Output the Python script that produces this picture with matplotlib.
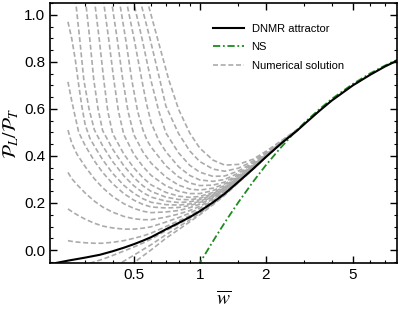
import numpy as np
import matplotlib
matplotlib.use('Agg')
import matplotlib.pyplot as plt
from matplotlib.ticker import FixedLocator, NullFormatter, MultipleLocator, FormatStrFormatter

plt.rcParams['font.family'] = ['Liberation Sans', 'DejaVu Sans']
plt.rcParams['mathtext.fontset'] = 'stix'

# DNMR attractor
attractor_w = [0.2, 0.22, 0.25, 0.3, 0.35, 0.4, 0.45, 0.5, 0.55, 0.6, 0.7, 0.8, 0.9, 1.0,
               1.15, 1.3, 1.5, 1.75, 2.0, 2.4, 2.8, 3.0, 3.5, 4.0, 5.0, 6.0, 7.0, 8.0]
attractor_y = [-0.07, -0.055, -0.045, -0.032, -0.02, -0.005, 0.010, 0.025, 0.040, 0.055, 0.088,
               0.115, 0.140, 0.165, 0.203, 0.240, 0.290, 0.345, 0.395, 0.46, 0.51, 0.535,
               0.59, 0.635, 0.70, 0.745, 0.78, 0.806]

# Navier-Stokes
ns_w = [0.98, 1.0, 1.1, 1.2, 1.33, 1.5, 1.75, 2.0, 2.3, 2.6, 3.0, 3.5, 4.0, 5.0, 6.0, 7.0, 8.0]
ns_y = [-0.07, -0.055, 0.009, 0.066, 0.131, 0.203, 0.290, 0.360, 0.427, 0.482, 0.541, 0.597,
        0.642, 0.706, 0.751, 0.784, 0.809]

# numerical solutions, one list per curve
grid = [0.25, 0.26, 0.275, 0.3, 0.33, 0.36, 0.4, 0.45, 0.5, 0.55, 0.6, 0.7, 0.8, 0.9, 1.0,
        1.15, 1.3, 1.5, 1.75, 2.0, 2.4, 2.8]
num_w = [
    [0.56, 0.579, 0.643, 0.722, 0.8, 0.9, 1.0, 1.15, 1.3, 1.5, 1.75, 2.0, 2.4, 2.8],
    [0.527, 0.538, 0.594, 0.657, 0.7, 0.8, 0.9, 1.0, 1.15, 1.3, 1.5, 1.75, 2.0, 2.4, 2.8],
    [0.49, 0.4996, 0.546, 0.5975, 0.65, 0.7, 0.8, 0.9, 1.0, 1.15, 1.3, 1.5, 1.75, 2.0, 2.4, 2.8],
    [0.455, 0.464, 0.502, 0.5435, 0.57, 0.6, 0.65, 0.7, 0.8, 0.9, 1.0, 1.15, 1.3, 1.5, 1.75,
     2.0, 2.4, 2.8],
    [0.422, 0.431, 0.459, 0.489, 0.52, 0.55, 0.575, 0.6, 0.7, 0.8, 0.9, 1.0, 1.15, 1.3, 1.5,
     1.75, 2.0, 2.4, 2.8],
    [0.388, 0.3964, 0.42, 0.445, 0.47, 0.5, 0.55, 0.6, 0.7, 0.8, 0.9, 1.0, 1.15, 1.3, 1.5,
     1.75, 2.0, 2.4, 2.8],
    [0.357, 0.3643, 0.384, 0.405, 0.425, 0.45, 0.5, 0.55, 0.6, 0.7, 0.8, 0.9, 1.0, 1.15, 1.3,
     1.5, 1.75, 2.0, 2.4, 2.8],
    [0.325, 0.3315, 0.3476, 0.3643, 0.38, 0.4, 0.45, 0.5, 0.55, 0.6, 0.7, 0.8, 0.9, 1.0, 1.15,
     1.3, 1.5, 1.75, 2.0, 2.4, 2.8],
    [0.296, 0.3016, 0.3147, 0.328, 0.343, 0.36, 0.4, 0.45, 0.5, 0.55, 0.6, 0.7, 0.8, 0.9, 1.0,
     1.15, 1.3, 1.5, 1.75, 2.0, 2.4, 2.8],
    [0.266, 0.2716, 0.2831, 0.2954, 0.312, 0.33, 0.36, 0.4, 0.45, 0.5, 0.55, 0.6, 0.7, 0.8,
     0.9, 1.0, 1.15, 1.3, 1.5, 1.75, 2.0, 2.4, 2.8],
    [0.25, 0.26, 0.27, 0.28, 0.29, 0.3, 0.315, 0.33, 0.36, 0.4, 0.45, 0.5, 0.55, 0.6, 0.7, 0.8,
     0.9, 1.0, 1.15, 1.3, 1.5, 1.75, 2.0, 2.4, 2.8],
    [0.25, 0.26, 0.27, 0.28, 0.3, 0.33, 0.36, 0.4, 0.45, 0.5, 0.55, 0.6, 0.7, 0.8, 0.9, 1.0,
     1.15, 1.3, 1.5, 1.75, 2.0, 2.4, 2.8],
    grid,
    grid,
    grid,
    grid,
    grid,
    [0.36, 0.4, 0.45, 0.5, 0.55, 0.6, 0.7, 0.8, 0.9, 1.0, 1.15, 1.3, 1.5, 1.75, 2.0],
    [0.4, 0.45, 0.5, 0.55, 0.6, 0.7, 0.8, 0.9, 1.0, 1.15, 1.3, 1.5, 1.75, 2.0],
]
num_y = [
    [1.13, 1.05, 0.894, 0.723, 0.598, 0.497, 0.433, 0.382, 0.361, 0.364, 0.386, 0.419, 0.470, 0.514],
    [1.12, 1.05, 0.894, 0.723, 0.612, 0.495, 0.421, 0.376, 0.344, 0.335, 0.348, 0.378, 0.413,
     0.468, 0.513],
    [1.12, 1.05, 0.894, 0.723, 0.59, 0.498, 0.413, 0.360, 0.331, 0.313, 0.315, 0.336, 0.371,
     0.410, 0.466, 0.513],
    [1.12, 1.05, 0.894, 0.723, 0.625, 0.54, 0.465, 0.418, 0.354, 0.317, 0.298, 0.292, 0.300,
     0.327, 0.366, 0.407, 0.465, 0.512],
    [1.12, 1.05, 0.894, 0.723, 0.59, 0.51, 0.465, 0.437, 0.358, 0.311, 0.285, 0.274, 0.276,
     0.289, 0.320, 0.362, 0.405, 0.464, 0.512],
    [1.12, 1.05, 0.894, 0.723, 0.59, 0.49, 0.417, 0.369, 0.310, 0.276, 0.259, 0.255, 0.263,
     0.281, 0.315, 0.359, 0.403, 0.463, 0.511],
    [1.12, 1.05, 0.894, 0.723, 0.59, 0.49, 0.407, 0.355, 0.317, 0.273, 0.250, 0.240, 0.240,
     0.253, 0.274, 0.311, 0.357, 0.402, 0.463, 0.511],
    [1.12, 1.05, 0.894, 0.723, 0.59, 0.495, 0.408, 0.349, 0.307, 0.277, 0.245, 0.229, 0.224,
     0.228, 0.245, 0.269, 0.308, 0.355, 0.401, 0.462, 0.511],
    [1.12, 1.05, 0.894, 0.723, 0.60, 0.508, 0.429, 0.358, 0.308, 0.273, 0.249, 0.225, 0.215,
     0.214, 0.220, 0.240, 0.265, 0.305, 0.354, 0.400, 0.462, 0.511],
    [1.12, 1.05, 0.894, 0.723, 0.60, 0.511, 0.443, 0.376, 0.315, 0.273, 0.244, 0.225, 0.208,
     0.202, 0.205, 0.214, 0.235, 0.262, 0.303, 0.353, 0.399, 0.462, 0.511],
    [0.97, 0.90, 0.81, 0.70, 0.605, 0.53, 0.475, 0.442, 0.384, 0.326, 0.275, 0.241, 0.218,
     0.203, 0.193, 0.191, 0.196, 0.207, 0.231, 0.259, 0.302, 0.352, 0.399, 0.462, 0.511],
    [0.715, 0.635, 0.565, 0.50, 0.443, 0.379, 0.330, 0.282, 0.240, 0.212, 0.194, 0.183, 0.179,
     0.181, 0.189, 0.202, 0.227, 0.257, 0.300, 0.351, 0.398, 0.461, 0.511],
    [0.51, 0.455, 0.407, 0.354, 0.303, 0.265, 0.228, 0.197, 0.177, 0.165, 0.159, 0.162, 0.168,
     0.180, 0.195, 0.223, 0.253, 0.298, 0.350, 0.398, 0.461, 0.510],
    [0.33, 0.304, 0.278, 0.242, 0.208, 0.183, 0.161, 0.143, 0.133, 0.129, 0.129, 0.140, 0.153,
     0.168, 0.186, 0.217, 0.250, 0.296, 0.348, 0.397, 0.461, 0.510],
    [0.175, 0.164, 0.150, 0.131, 0.114, 0.102, 0.094, 0.089, 0.089, 0.093, 0.099, 0.119, 0.138,
     0.157, 0.178, 0.211, 0.246, 0.294, 0.347, 0.396, 0.460, 0.510],
    [0.040, 0.037, 0.034, 0.031, 0.029, 0.029, 0.033, 0.040, 0.050, 0.060, 0.072, 0.100, 0.124,
     0.146, 0.170, 0.206, 0.242, 0.291, 0.346, 0.395, 0.460, 0.510],
    [-0.085, -0.081, -0.073, -0.062, -0.050, -0.039, -0.023, -0.004, 0.013, 0.030, 0.047, 0.082,
     0.111, 0.137, 0.163, 0.201, 0.239, 0.289, 0.344, 0.395, 0.46, 0.51],
    [-0.104, -0.077, -0.047, -0.022, 0.002, 0.023, 0.065, 0.099, 0.128, 0.156, 0.197, 0.236,
     0.288, 0.344, 0.394],
    [-0.126, -0.087, -0.054, -0.025, 0.001, 0.050, 0.087, 0.120, 0.150, 0.193, 0.233, 0.286,
     0.343, 0.394],
]

fig = plt.figure(figsize=(3.99, 3.09), dpi=100)
ax = fig.add_axes([50 / 399, 1 - 263 / 309, 347 / 399, 260 / 309])

for i, (w, y) in enumerate(zip(num_w, num_y)):
    ax.plot(w, y, color='#ababab', lw=1.2, ls=(0, (3, 1.6)), zorder=1,
            label='Numerical solution' if i == 0 else None)
ax.plot(ns_w, ns_y, color='#1f8a1f', lw=1.3, ls=(0, (4, 1.5, 1, 1.5)), zorder=2, label='NS')
ax.plot(attractor_w, attractor_y, color='k', lw=1.5, zorder=3, label='DNMR attractor')

ax.set_xscale('log')
ax.set_xlim(0.207, 7.95)
ax.set_ylim(-0.055, 1.05)

ax.xaxis.set_major_locator(FixedLocator([0.5, 1, 2, 5]))
ax.set_xticklabels(['0.5', '1', '2', '5'])
ax.xaxis.set_minor_locator(FixedLocator([0.3, 0.4, 0.6, 0.7, 0.8, 0.9, 1.5, 3, 4, 6, 7]))
ax.xaxis.set_minor_formatter(NullFormatter())
ax.yaxis.set_major_locator(MultipleLocator(0.2))
ax.yaxis.set_minor_locator(MultipleLocator(0.05))
ax.yaxis.set_major_formatter(FormatStrFormatter('%.1f'))

ax.tick_params(which='both', direction='in', top=True, right=True, colors='k', labelsize=11)
ax.tick_params(which='major', length=5, width=1)
ax.tick_params(which='minor', length=2.5, width=0.8)
for s in ax.spines.values():
    s.set_linewidth(1.2)

ax.set_xlabel(r'$\overline{w}$', fontsize=14, labelpad=6)
ax.set_ylabel(r'$\mathcal{P}_L/\mathcal{P}_T$', fontsize=14, labelpad=2)

h, l = ax.get_legend_handles_labels()
order = [2, 1, 0]
ax.legend([h[k] for k in order], [l[k] for k in order], loc='upper left',
          bbox_to_anchor=(0.44, 0.958), frameon=False, fontsize=8, handlelength=2.8,
          handletextpad=0.7, labelspacing=0.75)

fig.savefig('out.png', dpi=100)
